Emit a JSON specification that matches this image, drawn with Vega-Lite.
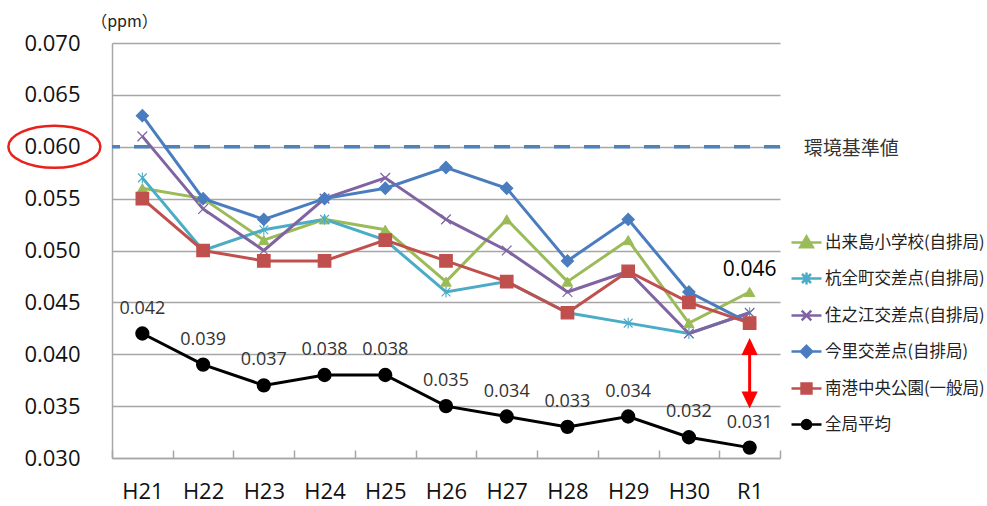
{
  "$schema": "https://vega.github.io/schema/vega-lite/v6.json",
  "width": 668,
  "height": 415,
  "autosize": {"type": "none"},
  "padding": {"left": 112, "top": 43, "right": 207, "bottom": 48},
  "background": "white",
  "config": {
    "view": {"stroke": null},
    "font": "Open Sans",
    "axisX": {
      "labelAngle": 0, "tickBand": "extent", "ticks": true, "tickSize": -8,
      "tickColor": "#A6A6A6", "tickWidth": 1.5, "domainColor": "#A6A6A6", "domainWidth": 1.5,
      "labelFontSize": 22, "labelPadding": 31, "labelColor": "#111", "labelFont": "Open Sans", "grid": false
    },
    "axisY": {
      "grid": true, "gridColor": "#A6A6A6", "gridWidth": 1.5,
      "domain": true, "domainColor": "#A6A6A6", "domainWidth": 1.5,
      "ticks": false,
      "labelFontSize": 22, "labelColor": "#111", "labelPadding": 32, "labelFont": "Open Sans",
      "titleAngle": 0, "titleX": 12, "titleY": -22, "titleAlign": "center", "titleBaseline": "middle",
      "titleFontSize": 16, "titleFontWeight": "normal", "titleFont": "Noto Sans CJK JP", "titleColor": "#222"
    }
  },
  "datasets": {
    "main": [
      {"series": "出来島小学校(自排局)", "year": "H21", "value": 0.056},
      {"series": "出来島小学校(自排局)", "year": "H22", "value": 0.055},
      {"series": "出来島小学校(自排局)", "year": "H23", "value": 0.051},
      {"series": "出来島小学校(自排局)", "year": "H24", "value": 0.053},
      {"series": "出来島小学校(自排局)", "year": "H25", "value": 0.052},
      {"series": "出来島小学校(自排局)", "year": "H26", "value": 0.047},
      {"series": "出来島小学校(自排局)", "year": "H27", "value": 0.053},
      {"series": "出来島小学校(自排局)", "year": "H28", "value": 0.047},
      {"series": "出来島小学校(自排局)", "year": "H29", "value": 0.051},
      {"series": "出来島小学校(自排局)", "year": "H30", "value": 0.043},
      {"series": "出来島小学校(自排局)", "year": "R1", "value": 0.046},
      {"series": "杭全町交差点(自排局)", "year": "H21", "value": 0.057},
      {"series": "杭全町交差点(自排局)", "year": "H22", "value": 0.050},
      {"series": "杭全町交差点(自排局)", "year": "H23", "value": 0.052},
      {"series": "杭全町交差点(自排局)", "year": "H24", "value": 0.053},
      {"series": "杭全町交差点(自排局)", "year": "H25", "value": 0.051},
      {"series": "杭全町交差点(自排局)", "year": "H26", "value": 0.046},
      {"series": "杭全町交差点(自排局)", "year": "H27", "value": 0.047},
      {"series": "杭全町交差点(自排局)", "year": "H28", "value": 0.044},
      {"series": "杭全町交差点(自排局)", "year": "H29", "value": 0.043},
      {"series": "杭全町交差点(自排局)", "year": "H30", "value": 0.042},
      {"series": "杭全町交差点(自排局)", "year": "R1", "value": 0.044},
      {"series": "住之江交差点(自排局)", "year": "H21", "value": 0.061},
      {"series": "住之江交差点(自排局)", "year": "H22", "value": 0.054},
      {"series": "住之江交差点(自排局)", "year": "H23", "value": 0.050},
      {"series": "住之江交差点(自排局)", "year": "H24", "value": 0.055},
      {"series": "住之江交差点(自排局)", "year": "H25", "value": 0.057},
      {"series": "住之江交差点(自排局)", "year": "H26", "value": 0.053},
      {"series": "住之江交差点(自排局)", "year": "H27", "value": 0.050},
      {"series": "住之江交差点(自排局)", "year": "H28", "value": 0.046},
      {"series": "住之江交差点(自排局)", "year": "H29", "value": 0.048},
      {"series": "住之江交差点(自排局)", "year": "H30", "value": 0.042},
      {"series": "住之江交差点(自排局)", "year": "R1", "value": 0.044},
      {"series": "今里交差点(自排局)", "year": "H21", "value": 0.063},
      {"series": "今里交差点(自排局)", "year": "H22", "value": 0.055},
      {"series": "今里交差点(自排局)", "year": "H23", "value": 0.053},
      {"series": "今里交差点(自排局)", "year": "H24", "value": 0.055},
      {"series": "今里交差点(自排局)", "year": "H25", "value": 0.056},
      {"series": "今里交差点(自排局)", "year": "H26", "value": 0.058},
      {"series": "今里交差点(自排局)", "year": "H27", "value": 0.056},
      {"series": "今里交差点(自排局)", "year": "H28", "value": 0.049},
      {"series": "今里交差点(自排局)", "year": "H29", "value": 0.053},
      {"series": "今里交差点(自排局)", "year": "H30", "value": 0.046},
      {"series": "今里交差点(自排局)", "year": "R1", "value": 0.043},
      {"series": "南港中央公園(一般局)", "year": "H21", "value": 0.055},
      {"series": "南港中央公園(一般局)", "year": "H22", "value": 0.050},
      {"series": "南港中央公園(一般局)", "year": "H23", "value": 0.049},
      {"series": "南港中央公園(一般局)", "year": "H24", "value": 0.049},
      {"series": "南港中央公園(一般局)", "year": "H25", "value": 0.051},
      {"series": "南港中央公園(一般局)", "year": "H26", "value": 0.049},
      {"series": "南港中央公園(一般局)", "year": "H27", "value": 0.047},
      {"series": "南港中央公園(一般局)", "year": "H28", "value": 0.044},
      {"series": "南港中央公園(一般局)", "year": "H29", "value": 0.048},
      {"series": "南港中央公園(一般局)", "year": "H30", "value": 0.045},
      {"series": "南港中央公園(一般局)", "year": "R1", "value": 0.043},
      {"series": "全局平均", "year": "H21", "value": 0.042},
      {"series": "全局平均", "year": "H22", "value": 0.039},
      {"series": "全局平均", "year": "H23", "value": 0.037},
      {"series": "全局平均", "year": "H24", "value": 0.038},
      {"series": "全局平均", "year": "H25", "value": 0.038},
      {"series": "全局平均", "year": "H26", "value": 0.035},
      {"series": "全局平均", "year": "H27", "value": 0.034},
      {"series": "全局平均", "year": "H28", "value": 0.033},
      {"series": "全局平均", "year": "H29", "value": 0.034},
      {"series": "全局平均", "year": "H30", "value": 0.032},
      {"series": "全局平均", "year": "R1", "value": 0.031}
    ],
    "std": [{"value": 0.06, "label": "環境基準値", "year": "R1", "first": "H21"}],
    "arrow": [
      {"part": "shaft", "year": "R1", "value": 0.04075, "value2": 0.0356},
      {"part": "up", "year": "R1", "value": 0.04075},
      {"part": "down", "year": "R1", "value": 0.0356}
    ]
  },
  "layer": [
    {
      "data": {"name": "std"},
      "mark": {"type": "rule", "stroke": "#4F81BD", "strokeWidth": 3.5, "strokeDash": [16, 14]},
      "encoding": {
        "y": {
          "field": "value", "type": "quantitative",
          "scale": {"domain": [0.03, 0.07], "nice": false, "zero": false},
          "axis": {"title": "（ppm）", "values": [0.03, 0.035, 0.04, 0.045, 0.05, 0.055, 0.06, 0.065, 0.07], "format": ".3f"}
        }
      }
    },
    {
      "data": {"name": "main"},
      "mark": {"type": "line", "strokeWidth": 3},
      "encoding": {
        "x": {
          "field": "year", "type": "nominal", "bandPosition": 0.5,
          "scale": {"type": "band", "domain": ["H21", "H22", "H23", "H24", "H25", "H26", "H27", "H28", "H29", "H30", "R1"], "paddingInner": 0, "paddingOuter": 0},
          "axis": {"title": null}
        },
        "y": {"field": "value", "type": "quantitative", "axis": {"title": "（ppm）", "values": [0.03, 0.035, 0.04, 0.045, 0.05, 0.055, 0.06, 0.065, 0.07], "format": ".3f"}},
        "stroke": {
          "field": "series", "type": "nominal", "legend": null,
          "scale": {"domain": ["出来島小学校(自排局)", "杭全町交差点(自排局)", "住之江交差点(自排局)", "今里交差点(自排局)", "南港中央公園(一般局)", "全局平均"], "range": ["#9BBB59", "#4BACC6", "#8064A2", "#4A7DBF", "#C0504D", "#000000"]}
        }
      }
    },
    {
      "data": {"name": "main"},
      "mark": {"type": "point", "filled": true, "opacity": 1},
      "encoding": {
        "x": {"field": "year", "type": "nominal", "bandPosition": 0.5, "axis": {"title": null}},
        "y": {"field": "value", "type": "quantitative", "axis": {"title": "（ppm）", "values": [0.03, 0.035, 0.04, 0.045, 0.05, 0.055, 0.06, 0.065, 0.07], "format": ".3f"}},
        "fill": {
          "field": "series", "type": "nominal", "legend": null,
          "scale": {"domain": ["出来島小学校(自排局)", "杭全町交差点(自排局)", "住之江交差点(自排局)", "今里交差点(自排局)", "南港中央公園(一般局)", "全局平均"], "range": ["#9BBB59", "#4BACC6", "#8064A2", "#4A7DBF", "#C0504D", "#000000"]}
        },
        "stroke": {
          "field": "series", "type": "nominal", "legend": null,
          "scale": {"domain": ["出来島小学校(自排局)", "杭全町交差点(自排局)", "住之江交差点(自排局)", "今里交差点(自排局)", "南港中央公園(一般局)", "全局平均"], "range": ["#9BBB59", "#4BACC6", "#8064A2", "#4A7DBF", "#C0504D", "#000000"]}
        },
        "shape": {
          "field": "series", "type": "nominal", "legend": null,
          "scale": {"domain": ["出来島小学校(自排局)", "杭全町交差点(自排局)", "住之江交差点(自排局)", "今里交差点(自排局)", "南港中央公園(一般局)", "全局平均"], "range": ["triangle-up", "M-0.8,-0.8L0.8,0.8M-0.8,0.8L0.8,-0.8M0,-1V1", "M-0.85,-0.85L0.85,0.85M-0.85,0.85L0.85,-0.85", "diamond", "square", "circle"]}
        },
        "size": {
          "field": "series", "type": "nominal", "legend": null,
          "scale": {"domain": ["出来島小学校(自排局)", "杭全町交差点(自排局)", "住之江交差点(自排局)", "今里交差点(自排局)", "南港中央公園(一般局)", "全局平均"], "range": [110, 160, 180, 130, 160, 140]}
        },
        "strokeWidth": {
          "field": "series", "type": "nominal", "legend": null,
          "scale": {"domain": ["出来島小学校(自排局)", "杭全町交差点(自排局)", "住之江交差点(自排局)", "今里交差点(自排局)", "南港中央公園(一般局)", "全局平均"], "range": [1, 1.6, 1.6, 1, 1, 1]}
        }
      }
    },
    {
      "data": {"name": "main"},
      "mark": {"type": "point", "filled": true, "opacity": 0},
      "encoding": {
        "x": {"field": "year", "type": "nominal", "bandPosition": 0.5, "axis": {"title": null}},
        "y": {"field": "value", "type": "quantitative", "axis": {"title": "（ppm）", "values": [0.03, 0.035, 0.04, 0.045, 0.05, 0.055, 0.06, 0.065, 0.07], "format": ".3f"}},
        "fill": {
          "field": "series", "type": "nominal",
          "scale": {"domain": ["出来島小学校(自排局)", "杭全町交差点(自排局)", "住之江交差点(自排局)", "今里交差点(自排局)", "南港中央公園(一般局)", "全局平均"], "range": ["#9BBB59", "#4BACC6", "#8064A2", "#4A7DBF", "#C0504D", "#000000"]},
          "legend": {"title": null, "orient": "none", "legendX": 678, "legendY": 183, "symbolSize": 900, "symbolStrokeWidth": 2.5, "symbolOpacity": 1, "labelFont": "Noto Sans CJK JP", "labelFontSize": 16.5, "labelColor": "#222", "rowPadding": 9, "labelOffset": 2, "padding": 0, "labelLimit": 300}
        },
        "stroke": {
          "field": "series", "type": "nominal",
          "scale": {"domain": ["出来島小学校(自排局)", "杭全町交差点(自排局)", "住之江交差点(自排局)", "今里交差点(自排局)", "南港中央公園(一般局)", "全局平均"], "range": ["#9BBB59", "#4BACC6", "#8064A2", "#4A7DBF", "#C0504D", "#000000"]},
          "legend": {"title": null, "orient": "none", "legendX": 678, "legendY": 183, "symbolSize": 900, "symbolStrokeWidth": 2.5, "symbolOpacity": 1, "labelFont": "Noto Sans CJK JP", "labelFontSize": 16.5, "labelColor": "#222", "rowPadding": 9, "labelOffset": 2, "padding": 0, "labelLimit": 300}
        },
        "shape": {
          "field": "series", "type": "nominal",
          "scale": {"domain": ["出来島小学校(自排局)", "杭全町交差点(自排局)", "住之江交差点(自排局)", "今里交差点(自排局)", "南港中央公園(一般局)", "全局平均"], "range": [
            "M-1,0H1M0,-0.4L0.42,0.32L-0.42,0.32Z",
            "M-1,0H1M-0.3,-0.3L0.3,0.3M-0.3,0.3L0.3,-0.3M0,-0.4V0.4",
            "M-1,0H1M-0.32,-0.32L0.32,0.32M-0.32,0.32L0.32,-0.32",
            "M-1,0H1M0,-0.38L0.38,0L0,0.38L-0.38,0Z",
            "M-1,0H1M-0.33,-0.33H0.33V0.33H-0.33Z",
            "M-1,0H1M-0.3,0A0.3,0.3,0,1,0,0.3,0A0.3,0.3,0,1,0,-0.3,0Z"
          ]},
          "legend": {"title": null, "orient": "none", "legendX": 678, "legendY": 183, "symbolSize": 900, "symbolStrokeWidth": 2.5, "symbolOpacity": 1, "labelFont": "Noto Sans CJK JP", "labelFontSize": 16.5, "labelColor": "#222", "rowPadding": 9, "labelOffset": 2, "padding": 0, "labelLimit": 300}
        }
      }
    },
    {
      "data": {"name": "main"},
      "transform": [{"filter": "datum.series == '全局平均'"}],
      "mark": {"type": "text", "dy": -25, "fontSize": 18, "color": "#333", "font": "Open Sans", "baseline": "middle", "align": "center"},
      "encoding": {
        "x": {"field": "year", "type": "nominal", "bandPosition": 0.5, "axis": {"title": null}},
        "y": {"field": "value", "type": "quantitative", "axis": {"title": "（ppm）", "values": [0.03, 0.035, 0.04, 0.045, 0.05, 0.055, 0.06, 0.065, 0.07], "format": ".3f"}},
        "text": {"field": "value", "type": "quantitative", "format": ".3f"}
      }
    },
    {
      "data": {"name": "main"},
      "transform": [{"filter": "datum.series == '出来島小学校(自排局)' && datum.year == 'R1'"}],
      "mark": {"type": "text", "dy": -22, "fontSize": 21, "color": "#000", "font": "Open Sans", "baseline": "middle", "align": "center"},
      "encoding": {
        "x": {"field": "year", "type": "nominal", "bandPosition": 0.5, "axis": {"title": null}},
        "y": {"field": "value", "type": "quantitative", "axis": {"title": "（ppm）", "values": [0.03, 0.035, 0.04, 0.045, 0.05, 0.055, 0.06, 0.065, 0.07], "format": ".3f"}},
        "text": {"field": "value", "type": "quantitative", "format": ".3f"}
      }
    },
    {
      "data": {"name": "std"},
      "mark": {"type": "text", "dx": 54, "dy": 2, "fontSize": 19, "color": "#333", "font": "Noto Sans CJK JP", "baseline": "middle", "align": "left"},
      "encoding": {
        "x": {"field": "year", "type": "nominal", "bandPosition": 0.5, "axis": {"title": null}},
        "y": {"field": "value", "type": "quantitative", "axis": {"title": "（ppm）", "values": [0.03, 0.035, 0.04, 0.045, 0.05, 0.055, 0.06, 0.065, 0.07], "format": ".3f"}},
        "text": {"field": "label", "type": "nominal"}
      }
    },
    {
      "data": {"name": "std"},
      "mark": {"type": "point", "filled": false, "stroke": "#E8211D", "strokeWidth": 2.5, "size": 8464, "xOffset": -88, "opacity": 1, "shape": "M-1,0A1,0.457,0,1,1,1,0A1,0.457,0,1,1,-1,0Z"},
      "encoding": {
        "x": {"field": "first", "type": "nominal", "bandPosition": 0.5, "axis": {"title": null}},
        "y": {"field": "value", "type": "quantitative", "axis": {"title": "（ppm）", "values": [0.03, 0.035, 0.04, 0.045, 0.05, 0.055, 0.06, 0.065, 0.07], "format": ".3f"}}
      }
    },
    {
      "data": {"name": "arrow"},
      "transform": [{"filter": "datum.part == 'shaft'"}],
      "mark": {"type": "rule", "stroke": "#FF0000", "strokeWidth": 3},
      "encoding": {
        "x": {"field": "year", "type": "nominal", "bandPosition": 0.5, "axis": {"title": null}},
        "y": {"field": "value", "type": "quantitative", "axis": {"title": "（ppm）", "values": [0.03, 0.035, 0.04, 0.045, 0.05, 0.055, 0.06, 0.065, 0.07], "format": ".3f"}},
        "y2": {"field": "value2"}
      }
    },
    {
      "data": {"name": "arrow"},
      "transform": [{"filter": "datum.part == 'up'"}],
      "mark": {"type": "point", "filled": true, "fill": "#FF0000", "strokeWidth": 0, "opacity": 1, "size": 289, "shape": "M0,-1L0.95,1L-0.95,1Z"},
      "encoding": {
        "x": {"field": "year", "type": "nominal", "bandPosition": 0.5, "axis": {"title": null}},
        "y": {"field": "value", "type": "quantitative", "axis": {"title": "（ppm）", "values": [0.03, 0.035, 0.04, 0.045, 0.05, 0.055, 0.06, 0.065, 0.07], "format": ".3f"}}
      }
    },
    {
      "data": {"name": "arrow"},
      "transform": [{"filter": "datum.part == 'down'"}],
      "mark": {"type": "point", "filled": true, "fill": "#FF0000", "strokeWidth": 0, "opacity": 1, "size": 289, "shape": "M0,1L0.95,-1L-0.95,-1Z"},
      "encoding": {
        "x": {"field": "year", "type": "nominal", "bandPosition": 0.5, "axis": {"title": null}},
        "y": {"field": "value", "type": "quantitative", "axis": {"title": "（ppm）", "values": [0.03, 0.035, 0.04, 0.045, 0.05, 0.055, 0.06, 0.065, 0.07], "format": ".3f"}}
      }
    }
  ],
  "resolve": {"scale": {"shape": "independent", "fill": "independent", "stroke": "independent", "size": "independent", "strokeWidth": "independent"}}
}
